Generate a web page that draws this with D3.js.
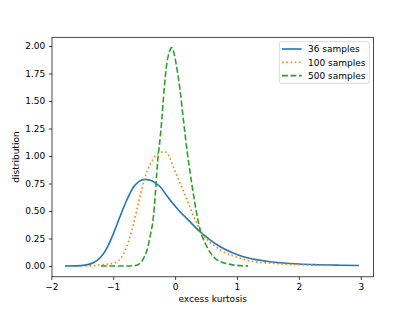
<!DOCTYPE html>
<html>
<head>
<meta charset="utf-8">
<script src="https://cdn.jsdelivr.net/npm/d3@7"></script>
<style>
    body { margin: 0; background: #fff; }
    svg text { font-family: "DejaVu Sans", sans-serif; }
</style>
</head>
<body>
<div id="chart"></div>
<script>
/*global d3*/
"use strict";

// Series
var seriesNames = ["36 samples", "100 samples", "500 samples"];
var seriesColors = ["#1f77b4", "#ff7f0e", "#2ca02c"];

var x36 = [-1.78, -1.6, -1.45, -1.32, -1.21, -1.1, -1.0, -0.89, -0.78, -0.67, -0.58, -0.5, -0.4, -0.32, -0.24, -0.16, -0.08,
    0.08, 0.24, 0.4, 0.57, 0.73, 0.89, 1.02, 1.2, 1.48, 1.75, 2.0, 2.3, 2.6, 2.97];
var y36 = [0, 0.001, 0.008, 0.03, 0.075, 0.165, 0.29, 0.45, 0.6, 0.72, 0.77, 0.788, 0.78, 0.755, 0.72, 0.66, 0.6,
    0.494, 0.403, 0.312, 0.236, 0.175, 0.13, 0.1, 0.07, 0.043, 0.027, 0.018, 0.012, 0.008, 0.005];

var x100 = [-1.45, -1.3, -1.21, -1.1, -0.97, -0.86, -0.78, -0.7, -0.59, -0.5, -0.4, -0.32, -0.24, -0.17, -0.1, 0,
    0.108, 0.215, 0.323, 0.457, 0.62, 0.78, 1.0, 1.21, 1.59, 2.02, 2.48];
var y100 = [0, 0.004, 0.01, 0.016, 0.03, 0.085, 0.18, 0.32, 0.58, 0.78, 0.93, 1.0, 1.03, 1.04, 1.0, 0.86,
    0.72, 0.57, 0.42, 0.28, 0.19, 0.13, 0.08, 0.047, 0.024, 0.012, 0.005];

var x500 = [-1.2, -0.8, -0.65, -0.565, -0.5, -0.45, -0.404, -0.35, -0.32, -0.296, -0.27, -0.24, -0.215, -0.178, -0.134,
    -0.09, -0.054, -0.02, 0.016, 0.08, 0.134, 0.2, 0.24, 0.323, 0.404, 0.51, 0.646, 0.73, 0.89, 1.0, 1.18];
var y500 = [0, 0, 0.004, 0.025, 0.08, 0.15, 0.27, 0.45, 0.65, 0.85, 1.02, 1.17, 1.33, 1.6, 1.84,
    1.95, 1.985, 1.94, 1.84, 1.6, 1.33, 1.02, 0.86, 0.56, 0.33, 0.18, 0.07, 0.04, 0.015, 0.006, 0.001];

var xTicks = [-2, -1, 0, 1, 2, 3];
var yTicks = [0, 0.25, 0.5, 0.75, 1.0, 1.25, 1.5, 1.75, 2.0];

var seriesX = [x36, x100, x500];
var seriesY = [y36, y100, y500];

var width = 415, height = 311;
var margin = {left: 52, right: 415 - 373.5, top: 37.3, bottom: 311 - 276.8};
var lw = 1.6;
// matplotlib dash patterns, scaled by linewidth
var dashes = [null, (1 * lw) + "," + (1.65 * lw), (3.7 * lw) + "," + (1.6 * lw)];

var svg = d3.select("#chart").append("svg")
    .attr("width", width)
    .attr("height", height);

var x = d3.scaleLinear().domain([-1.989, 3.206]).range([margin.left, width - margin.right]);
var y = d3.scaleLinear().domain([-0.098, 2.079]).range([height - margin.bottom, margin.top]);

// Lines
var line = d3.line()
    .x(function (d) { return x(d[0]); })
    .y(function (d) { return y(d[1]); })
    .curve(d3.curveMonotoneX);

var plot = svg.append("g");
plot.append("clipPath").attr("id", "clip").append("rect")
    .attr("x", margin.left).attr("y", margin.top)
    .attr("width", width - margin.left - margin.right)
    .attr("height", height - margin.top - margin.bottom);

seriesNames.forEach(function (name, i) {
    var pts = d3.zip(seriesX[i], seriesY[i]);
    plot.append("path")
        .datum(pts)
        .attr("clip-path", "url(#clip)")
        .attr("fill", "none")
        .attr("stroke", seriesColors[i])
        .attr("stroke-width", lw)
        .attr("stroke-dasharray", dashes[i])
        .attr("d", line);
});

// Axes
var xAxis = svg.append("g")
    .attr("transform", "translate(0," + (height - margin.bottom) + ")")
    .call(d3.axisBottom(x).tickValues(xTicks).tickSize(3.2).tickPadding(3.2).tickFormat(d3.format("d")));
var yAxis = svg.append("g")
    .attr("transform", "translate(" + margin.left + ",0)")
    .call(d3.axisLeft(y).tickValues(yTicks).tickSize(3.2).tickPadding(3.5).tickFormat(d3.format(".2f")));

[xAxis, yAxis].forEach(function (a) {
    a.select(".domain").remove();
    a.selectAll(".tick line").attr("stroke", "#000").attr("stroke-width", 0.72);
    a.selectAll(".tick text").attr("fill", "#000").style("font-size", "9px");
});

// Frame (spines)
svg.append("rect")
    .attr("x", margin.left).attr("y", margin.top)
    .attr("width", width - margin.left - margin.right)
    .attr("height", height - margin.top - margin.bottom)
    .attr("fill", "none")
    .attr("stroke", "#000")
    .attr("stroke-width", 0.72);

// Axis labels
svg.append("text")
    .attr("x", (margin.left + width - margin.right) / 2)
    .attr("y", 302)
    .attr("text-anchor", "middle")
    .style("font-size", "9px")
    .text("excess kurtosis");

svg.append("text")
    .attr("transform", "translate(19," + ((margin.top + height - margin.bottom) / 2) + ") rotate(-90)")
    .attr("text-anchor", "middle")
    .style("font-size", "9px")
    .text("distribution");

// Legend
var legend = svg.append("g");
legend.append("rect")
    .attr("x", 279.3).attr("y", 41.7)
    .attr("width", 90).attr("height", 41.6)
    .attr("rx", 2)
    .attr("fill", "#fff").attr("fill-opacity", 0.8)
    .attr("stroke", "#ccc").attr("stroke-width", 0.72);

seriesNames.forEach(function (name, i) {
    var ly = 49 + i * 13.3;
    legend.append("line")
        .attr("x1", 282).attr("x2", 301.7)
        .attr("y1", ly).attr("y2", ly)
        .attr("stroke", seriesColors[i])
        .attr("stroke-width", lw)
        .attr("stroke-dasharray", dashes[i]);
    legend.append("text")
        .attr("x", 308)
        .attr("y", ly + 3.2)
        .style("font-size", "9px")
        .text(name);
});
</script>
</body>
</html>
